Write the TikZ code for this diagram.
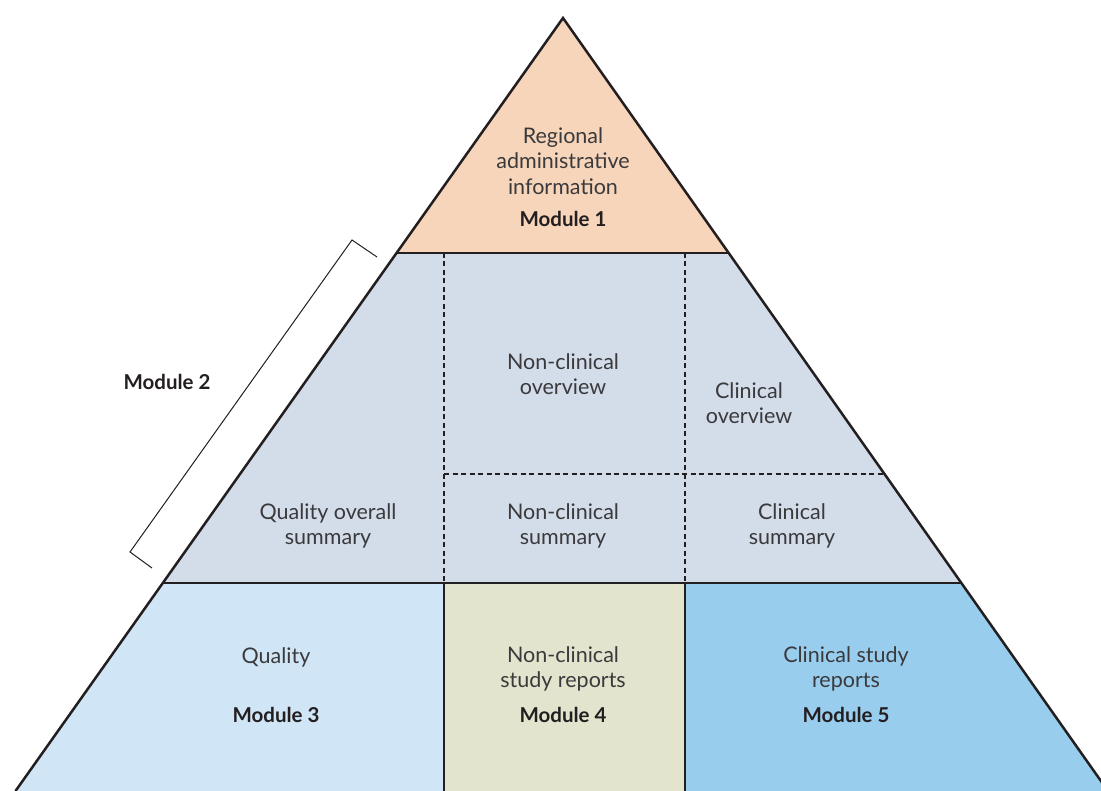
\documentclass[tikz,border=0pt]{standalone}
\usepackage{fontspec}
\setmainfont{Lato}
\usetikzlibrary{calc}
\definecolor{regionfill}{HTML}{F6D5BA}
\definecolor{summaryfill}{HTML}{D3DCE9}
\definecolor{qualityfill}{HTML}{D0E5F5}
\definecolor{nonclinfill}{HTML}{E3E4CD}
\definecolor{clinfill}{HTML}{99CDEE}
\definecolor{inkgray}{HTML}{231F20}
\definecolor{textgray}{HTML}{3A3A3C}
\tikzset{
	txt/.style={align=center, text=textgray, font=\fontsize{21.5}{25.5}\selectfont},
	modname/.style={text=inkgray, font=\fontsize{20.5}{25.5}\selectfont\bfseries},
	rim/.style={draw=inkgray, line width=2.5pt, line join=miter},
	split/.style={draw=inkgray, line width=2.2pt, dash pattern=on 5pt off 3.5pt},
}
\begin{document}
\begin{tikzpicture}[x=1pt, y=-1pt]
\useasboundingbox (0,0) rectangle (1101,791);
\clip (0,0) rectangle (1101,791);
% corners of the pyramid
\coordinate (apex) at (563,18);
\coordinate (topl) at (397,253);
\coordinate (topr) at (728,253);
\coordinate (midl) at (163,583);
\coordinate (midr) at (962,583);
\coordinate (botl) at (15.5,791);
\coordinate (botr) at (1108,791);
\coordinate (cutA) at (444,583);
\coordinate (cutB) at (685,583);
\coordinate (cutAb) at (444,791);
\coordinate (cutBb) at (685,791);
\coordinate (cutAt) at (444,253);
\coordinate (cutBt) at (685,253);
\coordinate (rowl) at (444,474);
\coordinate (rowr) at (885,474);

% fills
\fill[regionfill] (apex) -- (topl) -- (topr) -- cycle;
\fill[summaryfill] (topl) -- (midl) -- (midr) -- (topr) -- cycle;
\fill[qualityfill] (midl) -- (cutA) -- (cutAb) -- (botl) -- cycle;
\fill[nonclinfill] (cutA) -- (cutB) -- (cutBb) -- (cutAb) -- cycle;
\fill[clinfill] (cutB) -- (midr) -- (botr) -- (cutBb) -- cycle;

% inner lines
\draw[split] (cutAt) -- (cutA);
\draw[split] (cutBt) -- (cutB);
\draw[split] (rowl) -- (rowr);
\draw[rim] (cutA) -- (cutAb);
\draw[rim] (cutB) -- (cutBb);
\draw[rim] (topl) -- (topr);
\draw[rim] (midl) -- (midr);
\draw[rim] (botl) -- (apex) -- (botr);

% bracket for module 2
\draw[inkgray, line width=1pt] (377,257) -- (352,240) -- (130,552) -- (152,568);

% texts
\node[txt] (regional) at (563,161) {Regional\\administrative\\information};
\node[modname] (mod1) at (563,219) {Module 1};
\node[modname] (mod2) at (167,382) {Module 2};
\node[txt] (ncover) at (563,374) {Non-clinical\\overview};
\node[txt] (clover) at (749,403) {Clinical\\overview};
\node[txt] (qos) at (328,526) {Quality overall\\summary};
\node[txt] (ncsum) at (563,526) {Non-clinical\\summary};
\node[txt] (clsum) at (792,526) {Clinical\\summary};
\node[txt] (quality) at (276,657) {Quality};
\node[modname] (mod3) at (276,715) {Module 3};
\node[txt] (ncrep) at (563,669) {Non-clinical\\study reports};
\node[modname] (mod4) at (563,715) {Module 4};
\node[txt] (clrep) at (846,669) {Clinical study\\reports};
\node[modname] (mod5) at (846,715) {Module 5};
\end{tikzpicture}
\end{document}
